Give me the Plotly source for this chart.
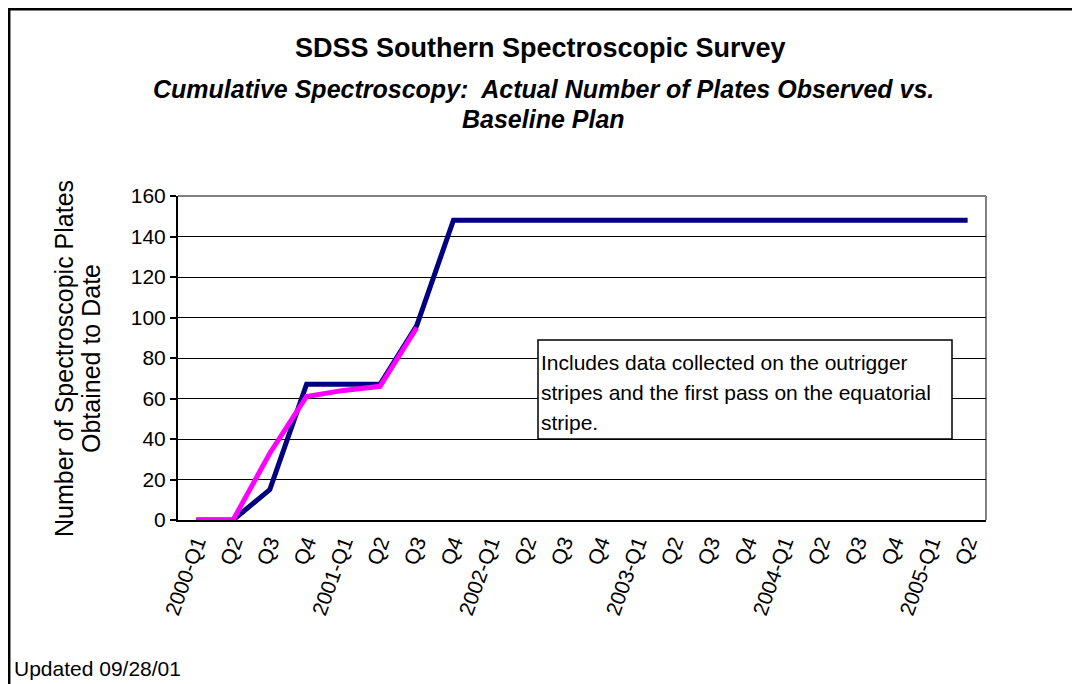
import plotly.graph_objects as go

categories = ["2000-Q1", "Q2", "Q3", "Q4",
              "2001-Q1", "Q2", "Q3", "Q4",
              "2002-Q1", "Q2", "Q3", "Q4",
              "2003-Q1", "Q2", "Q3", "Q4",
              "2004-Q1", "Q2", "Q3", "Q4",
              "2005-Q1", "Q2"]
baseline_plan = [0, 0, 15, 67, 67, 67, 96, 148, 148, 148, 148, 148,
                 148, 148, 148, 148, 148, 148, 148, 148, 148, 148]
actual_observed = [0, 0, 33, 61, 64, 66, 95]

W, H = 1080, 684
OFF = 8  # page body margin offset (screen = figure + 8)
# plot area in screen pixels
SL, SR, ST, SB = 178, 986, 196, 520
L, R, T, B = SL - OFF, SR - OFF, ST - OFF, SB - OFF
PW, PH = R - L, B - T

def px(x):  # screen x -> paper
    return (x - OFF - L) / PW

def py(y):  # screen y -> paper
    return (B - (y - OFF)) / PH

FONT = "Liberation Sans, Arial, sans-serif"
idx = list(range(len(categories)))

fig = go.Figure()
fig.add_trace(go.Scatter(x=idx, y=baseline_plan, mode="lines",
                         line=dict(color="#000080", width=5),
                         name="Baseline Plan", showlegend=False))
fig.add_trace(go.Scatter(x=idx[:len(actual_observed)], y=actual_observed, mode="lines",
                         line=dict(color="#FF00FF", width=5),
                         name="Actual", showlegend=False))

fig.update_layout(
    width=W, height=H,
    margin=dict(l=L, r=W - R, t=T, b=H - B),
    paper_bgcolor="white", plot_bgcolor="white",
    font=dict(family=FONT, color="black", size=21),
    showlegend=False,
    xaxis=dict(range=[-0.5, len(categories) - 0.5], tickvals=idx, ticktext=categories,
               tickangle=-70, showgrid=False, zeroline=False, showline=True,
               linecolor="black", linewidth=2, ticks="", tickfont=dict(size=21)),
    yaxis=dict(range=[0, 160], dtick=20, showgrid=True, gridcolor="black", gridwidth=1,
               zeroline=False, showline=True, linecolor="black", linewidth=2,
               ticks="outside", ticklen=6, tickcolor="black", tickwidth=1.5,
               tickfont=dict(size=21)),
)

shapes = [
    # outer chart frame
    dict(type="rect", xref="paper", yref="paper",
         x0=px(9.2), x1=px(1200), y0=py(800), y1=py(9.2),
         line=dict(color="black", width=2.5), layer="above"),
    # plot area top/right frame (gray)
    dict(type="line", xref="paper", yref="paper", x0=0, x1=1, y0=1, y1=1,
         line=dict(color="#808080", width=2), layer="below"),
    dict(type="line", xref="paper", yref="paper", x0=1, x1=1, y0=0, y1=1,
         line=dict(color="#808080", width=2), layer="below"),
    # annotation box
    dict(type="rect", xref="paper", yref="paper",
         x0=px(538), x1=px(952), y0=py(439), y1=py(340),
         line=dict(color="black", width=1.5), fillcolor="white", layer="above"),
]
fig.update_layout(shapes=shapes)

annotations = [
    dict(text="<b>SDSS Southern Spectroscopic Survey</b>", x=px(540), y=py(48),
         font=dict(size=27)),
    dict(text="<b><i>Cumulative Spectroscopy:  Actual Number of Plates Observed vs.</i></b>",
         x=px(543), y=py(89), font=dict(size=25)),
    dict(text="<b><i>Baseline Plan</i></b>", x=px(543), y=py(119), font=dict(size=25)),
    dict(text="Number of Spectroscopic Plates", x=px(64), y=py(359), textangle=-90,
         font=dict(size=25)),
    dict(text="Obtained to Date", x=px(91), y=py(359), textangle=-90, font=dict(size=25)),
    dict(text="Updated 09/28/01", x=px(12), y=py(668), xanchor="left", font=dict(size=21)),
    dict(text="Includes data collected on the outrigger", x=px(539), y=py(362),
         xanchor="left", font=dict(size=21)),
    dict(text="stripes and the first pass on the equatorial", x=px(539), y=py(392),
         xanchor="left", font=dict(size=21)),
    dict(text="stripe.", x=px(539), y=py(422), xanchor="left", font=dict(size=21)),
]
for a in annotations:
    a.setdefault("xanchor", "center")
    a.update(xref="paper", yref="paper", yanchor="middle", showarrow=False)
fig.update_layout(annotations=annotations)

fig.write_html("out.html")
